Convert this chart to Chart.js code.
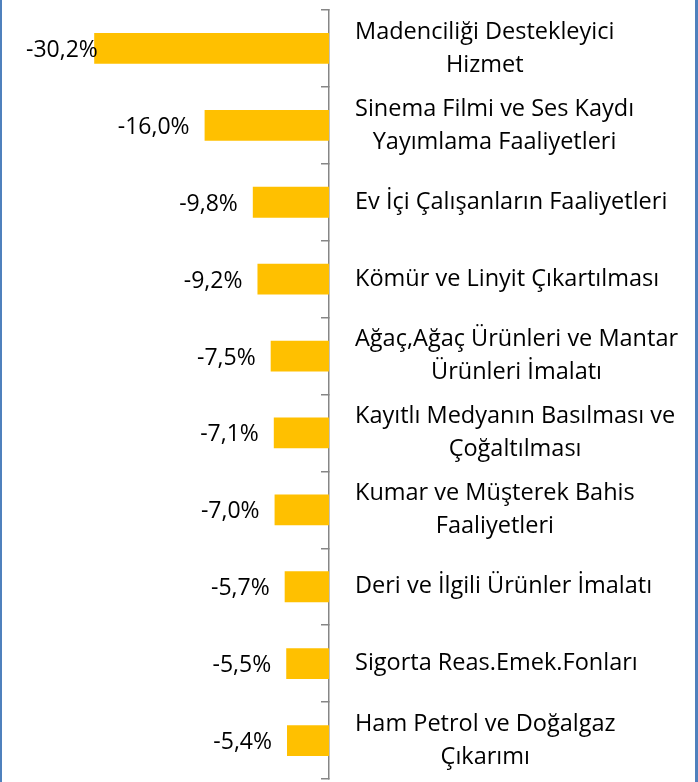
<!DOCTYPE html>
<html>
<head>
<meta charset="utf-8">
<script src="https://cdn.jsdelivr.net/npm/chart.js@4/dist/chart.umd.min.js"></script>
<style>
  html, body { margin: 0; padding: 0; background: #fff; }
  #wrap {
    width: 698px; height: 782px; box-sizing: border-box;
    border-left: 2px solid #4f81bd; border-right: 3px solid #4f81bd;
    position: relative;
  }
</style>
</head>
<body>
<div id="wrap"><canvas id="barChart"></canvas></div>
<script>
const categories = [
    ['Madenciliği Destekleyici', 'Hizmet'],
    ['Sinema Filmi ve Ses Kaydı', 'Yayımlama Faaliyetleri'],
    ['Ev İçi Çalışanların Faaliyetleri'],
    ['Kömür ve Linyit Çıkartılması'],
    ['Ağaç,Ağaç Ürünleri ve Mantar', 'Ürünleri İmalatı'],
    ['Kayıtlı Medyanın Basılması ve', 'Çoğaltılması'],
    ['Kumar ve Müşterek Bahis', 'Faaliyetleri'],
    ['Deri ve İlgili Ürünler İmalatı'],
    ['Sigorta Reas.Emek.Fonları'],
    ['Ham Petrol ve Doğalgaz', 'Çıkarımı']
];
const changes = [-30.2, -16.0, -9.8, -9.2, -7.5, -7.1, -7.0, -5.7, -5.5, -5.4];

const fontName = "'Open Sans', 'DejaVu Sans', sans-serif";

// value labels left of each bar end, kept inside the plot area like excel does
const valueLabels = {
    id: 'valueLabels',
    afterDatasetsDraw(chart) {
        const ctx = chart.ctx;
        const meta = chart.getDatasetMeta(0);
        const minLeft = chart.chartArea.left + 8;
        ctx.save();
        ctx.font = '23px ' + fontName;
        ctx.fillStyle = '#000';
        ctx.textAlign = 'right';
        ctx.textBaseline = 'middle';
        meta.data.forEach((bar, i) => {
            const txt = changes[i].toFixed(1).replace('.', ',') + '%';
            const w = ctx.measureText(txt).width;
            let right = bar.x - 15;
            if (right - w < minLeft) right = minLeft + w;
            ctx.fillText(txt, right, bar.y + 2);
        });
        ctx.restore();
    }
};

// category names right of the axis, lines centred within their block
const categoryLabels = {
    id: 'categoryLabels',
    afterDraw(chart) {
        const ctx = chart.ctx;
        const yScale = chart.scales.y;
        const left = chart.chartArea.right + 26;
        const lineH = 33;
        ctx.save();
        ctx.font = '23.5px ' + fontName;
        ctx.fillStyle = '#000';
        ctx.textAlign = 'center';
        ctx.textBaseline = 'middle';
        categories.forEach((lines, i) => {
            const yc = yScale.getPixelForValue(i);
            const w = Math.max(...lines.map(l => ctx.measureText(l).width));
            const x = left + w / 2;
            const y0 = yc - (lines.length - 1) * lineH / 2;
            lines.forEach((l, k) => ctx.fillText(l, x, y0 + k * lineH));
        });
        ctx.restore();
    }
};

const bar_ctx = document.getElementById('barChart');
new Chart(bar_ctx, {
    type: 'bar',
    data: {
        labels: categories,
        datasets: [{
            data: changes,
            backgroundColor: '#FFC000',
            barPercentage: 0.4,
            categoryPercentage: 1.0
        }]
    },
    options: {
        indexAxis: 'y',
        responsive: true,
        maintainAspectRatio: false,
        animation: false,
        layout: { padding: { left: 16, right: 366, top: 10, bottom: 3 } },
        plugins: { legend: { display: false }, tooltip: { enabled: false } },
        scales: {
            x: { display: false, min: -40, max: 0 },
            y: {
                position: 'right',
                offset: true,
                ticks: { display: false },
                grid: {
                    offset: true,
                    drawOnChartArea: false,
                    drawTicks: true,
                    tickLength: -8,
                    color: '#868686',
                    lineWidth: 1.5
                },
                border: { display: true, color: '#868686', width: 1.5 },
                afterFit(scale) { scale.width = 0; }
            }
        }
    },
    plugins: [valueLabels, categoryLabels]
});
</script>
</body>
</html>
